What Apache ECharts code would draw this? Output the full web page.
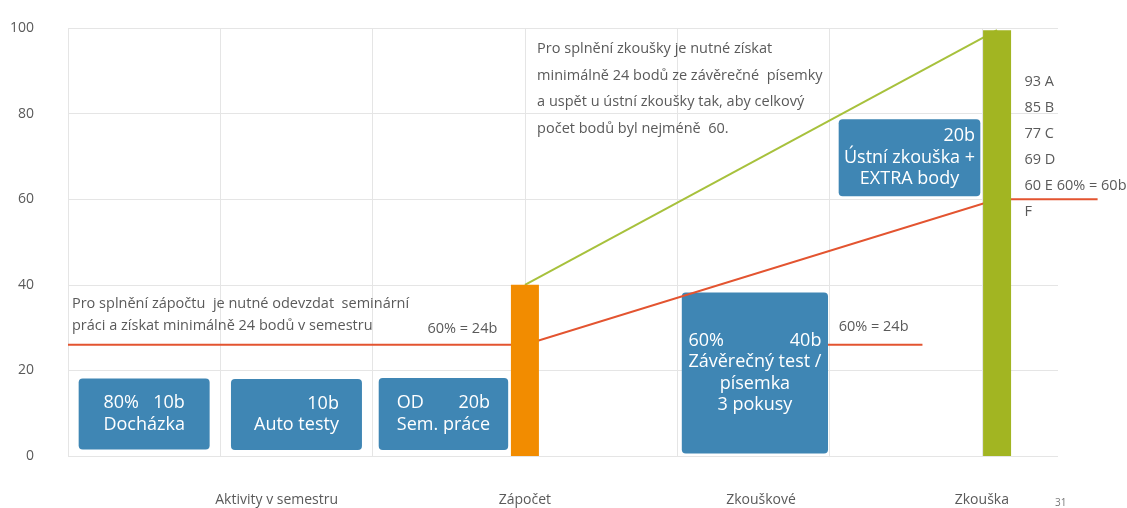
<!DOCTYPE html>
<html>
<head>
<meta charset="utf-8">
<script src="https://cdn.jsdelivr.net/npm/echarts@6/dist/echarts.min.js"></script>
<style>
html,body{margin:0;padding:0;background:#fff;}
#chart{width:1127px;height:508px;}
</style>
</head>
<body>
<div id="chart"></div>
<script>
// ---------- data ----------
const yTicks = [0, 20, 40, 60, 80, 100];
const phaseNames = ['Aktivity v semestru', 'Zápočet', 'Zkouškové', 'Zkouška'];
const phasePos = [1.37, 3, 4.55, 6];

const barPos = [3, 6.1];
const barValues = [40, 99.5];

const passPos = [0, 3, 6.1, 6.76];
const passValues = [26, 26, 60, 60];

const maxPos = [3, 6.1];
const maxValues = [40, 99.5];

const testPassPos = [4.99, 5.61];
const testPassValues = [26, 26];

const boxHead = [['80%', '10b'], ['', '10b'], ['OD', '20b'], ['60%', '40b'], ['', '20b']];
const boxBody = [['Docházka'], ['Auto testy'], ['Sem. práce'], ['Závěrečný test /', 'písemka', '3 pokusy'], ['Ústní zkouška +', 'EXTRA body']];
const boxFrom = [0.07, 1.07, 2.04, 4.03, 5.06];
const boxTo = [0.93, 1.93, 2.89, 4.99, 5.99];
const boxLow = [1.5, 1.4, 1.4, 0.6, 60.7];
const boxHigh = [18.1, 18.0, 18.2, 38.2, 78.7];

const semesterNote = ['Pro splnění zápočtu  je nutné odevzdat  seminární', 'práci a získat minimálně 24 bodů v semestru'];
const examNote = ['Pro splnění zkoušky je nutné získat', 'minimálně 24 bodů ze závěrečné  písemky', 'a uspět u ústní zkoušky tak, aby celkový', 'počet bodů byl nejméně  60.'];
const gradeList = ['93 A', '85 B', '77 C', '69 D', '60 E 60% = 60b', 'F'];
const thresholdText = '60% = 24b';
const slideNumber = '31';

// ---------- styles ----------
const BLUE = '#3f86b4';
const ORANGE = '#f28c00';
const OLIVE = '#a2b522';
const GREEN_LINE = '#a7c13c';
const RED = '#e35430';
const GREY_TEXT = '#5a5a5a';
const GRID = '#e5e5e5';
const FONT = '"Open Sans", "DejaVu Sans", sans-serif';
const BOX_FS = 18;
const NOTE_FS = 14.5;
const barColors = [ORANGE, OLIVE];

const notes = [
  { lines: semesterNote, at: [0.026, 35.5], lh: 22 },
  { lines: examNote, at: [3.08, 95.1], lh: 26.7 },
  { lines: [thresholdText], at: [2.36, 29.8], lh: 22 },
  { lines: [thresholdText], at: [5.06, 30.1], lh: 22 },
  { lines: gradeList, at: [6.28, 87.4], lh: 26 }
];

const lines = [
  { xs: passPos, ys: passValues, color: RED },
  { xs: testPassPos, ys: testPassValues, color: RED },
  { xs: maxPos, ys: maxValues, color: GREEN_LINE }
];

const measureCtx = document.createElement('canvas').getContext('2d');
function textWidth(t, size) {
  measureCtx.font = size + 'px ' + FONT;
  return measureCtx.measureText(t).width;
}

const chart = echarts.init(document.getElementById('chart'));

const option = {
  animation: false,
  backgroundColor: '#fff',
  grid: { left: 68, right: 69, top: 28, bottom: 52, containLabel: false },
  xAxis: {
    type: 'value', min: 0, max: 6.5, interval: 1,
    axisLine: { show: false }, axisTick: { show: false }, axisLabel: { show: false },
    splitLine: { show: true, showMaxLine: false, lineStyle: { color: GRID, width: 1 } }
  },
  yAxis: {
    type: 'value', min: yTicks[0], max: yTicks[yTicks.length - 1], interval: yTicks[1] - yTicks[0],
    axisLine: { show: false }, axisTick: { show: false },
    axisLabel: { color: GREY_TEXT, fontSize: 14, fontFamily: FONT, margin: 34 },
    splitLine: { lineStyle: { color: GRID, width: 1 } }
  },
  graphic: [{
    type: 'text', left: 1055, top: 498,
    style: { text: slideNumber, fontSize: 10, fill: '#777', fontFamily: FONT }
  }],
  series: [
    {
      name: 'boxes', type: 'custom', z: 3, clip: false, silent: true,
      data: boxFrom.map((x0, i) => [x0, boxLow[i], boxTo[i], boxHigh[i]]),
      encode: { x: [0, 2], y: [1, 3] },
      renderItem: function (params, api) {
        const i = params.dataIndex;
        const p0 = api.coord([api.value(0), api.value(1)]);
        const p1 = api.coord([api.value(2), api.value(3)]);
        const x = p0[0], y = p1[1], w = p1[0] - p0[0], h = p0[1] - p1[1];
        const children = [{ type: 'rect', shape: { x: x, y: y, width: w, height: h, r: 4 }, style: { fill: BLUE } }];
        const body = boxBody[i];
        const lh = 21.5;
        const n = body.length + 1;
        const cx = x + w / 2, cy = y + h / 2;
        const firstY = cy - (n - 1) * lh / 2;
        const maxW = Math.max.apply(null, body.map(t => textWidth(t, BOX_FS)));
        const head = boxHead[i];
        const txt = (t, tx, ty, align) => ({
          type: 'text', x: tx, y: ty,
          style: { text: t, fill: '#fff', fontSize: BOX_FS, fontFamily: FONT, align: align, verticalAlign: 'middle' }
        });
        if (head[0]) children.push(txt(head[0], cx - maxW / 2, firstY, 'left'));
        if (head[1]) children.push(txt(head[1], cx + maxW / 2, firstY, 'right'));
        body.forEach((t, k) => children.push(txt(t, cx, firstY + (k + 1) * lh, 'center')));
        return { type: 'group', children: children };
      }
    },
    {
      name: 'lines', type: 'custom', z: 4, clip: false, silent: true,
      data: lines.map((l, i) => [l.xs[0], l.ys[0], i]),
      encode: { x: 0, y: 1 },
      renderItem: function (params, api) {
        const l = lines[params.dataIndex];
        const pts = l.xs.map((x, k) => api.coord([x, l.ys[k]]));
        return {
          type: 'polyline', shape: { points: pts },
          style: { stroke: l.color, lineWidth: 2, fill: null }
        };
      }
    },
    {
      name: 'bars', type: 'bar', z: 5, barWidth: 28, silent: true,
      data: barPos.map((x, i) => ({ value: [x, barValues[i]], itemStyle: { color: barColors[i] } }))
    },
    {
      name: 'notes', type: 'custom', z: 6, clip: false, silent: true,
      data: notes.map(nt => nt.at),
      encode: { x: 0, y: 1 },
      renderItem: function (params, api) {
        const nt = notes[params.dataIndex];
        const p = api.coord([api.value(0), api.value(1)]);
        return {
          type: 'group',
          children: nt.lines.map((t, k) => ({
            type: 'text', x: p[0], y: p[1] + k * nt.lh,
            style: { text: t, fill: GREY_TEXT, fontSize: NOTE_FS, fontFamily: FONT, align: 'left', verticalAlign: 'middle' }
          }))
        };
      }
    },
    {
      name: 'phases', type: 'custom', z: 6, clip: false, silent: true,
      data: phasePos.map(x => [x, 0]),
      encode: { x: 0, y: 1 },
      renderItem: function (params, api) {
        const p = api.coord([api.value(0), api.value(1)]);
        return {
          type: 'text', x: p[0], y: p[1] + 44,
          style: { text: phaseNames[params.dataIndex], fill: GREY_TEXT, fontSize: 14, fontFamily: FONT, align: 'center', verticalAlign: 'middle' }
        };
      }
    }
  ]
};
chart.setOption(option);
</script>
</body>
</html>
